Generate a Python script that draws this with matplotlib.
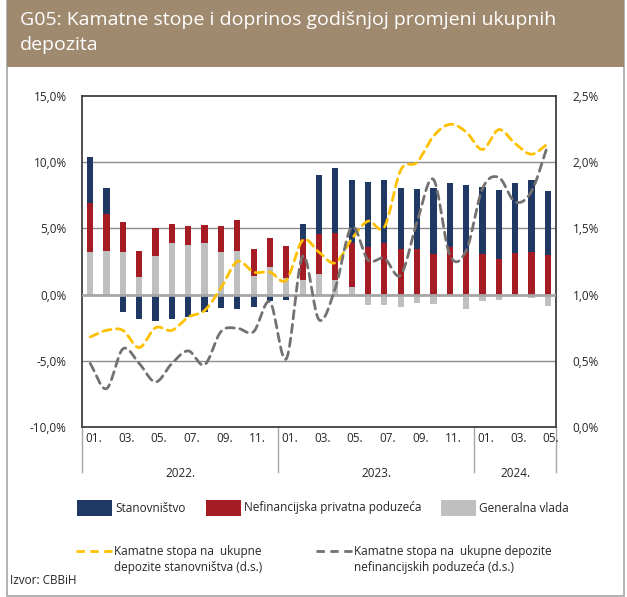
import numpy as np
import matplotlib
matplotlib.use('Agg')
import matplotlib.pyplot as plt
from matplotlib.lines import Line2D
from matplotlib.patches import Rectangle
import matplotlib.transforms as mtransforms

plt.rcParams['font.family'] = ['Open Sans', 'DejaVu Sans']

# doprinos godišnjoj promjeni (%), lijeva os
stanovnistvo = [3.5, 2.0, -1.33, -1.88, -1.98, -1.86, -1.66, -1.28, -1.03, -1.1, -0.95, -0.48,
                -0.4, 1.16, 4.52, 4.93, 4.75, 4.92, 4.78, 4.6, 4.52, 4.95, 4.85, 5.08,
                5.05, 5.2, 5.3, 5.48, 4.82]
poduzeca = [3.7, 2.81, 2.26, 1.94, 2.11, 1.44, 1.41, 1.34, 1.96, 2.34, 2.01, 2.21,
            2.39, 3.04, 2.97, 3.51, 3.29, 3.57, 3.89, 3.42, 3.47, 3.07, 3.57, 3.19,
            3.07, 2.71, 3.12, 3.19, 2.99]
vlada = [3.2, 3.27, 3.2, 1.33, 2.89, 3.89, 3.77, 3.89, 3.24, 3.29, 1.43, 2.09,
         1.28, 1.13, 1.58, 1.11, 0.6, -0.75, -0.78, -0.9, -0.65, -0.73, -0.05, -1.08,
         -0.45, -0.42, -0.12, -0.24, -0.84]

# kamatne stope (%), desna os
stopa_stan = [0.68, 0.73, 0.73, 0.60, 0.75, 0.73, 0.83, 0.88, 1.05, 1.25, 1.17, 1.17,
              1.11, 1.41, 1.32, 1.24, 1.42, 1.555, 1.51, 1.94, 2.0, 2.196, 2.286, 2.229,
              2.096, 2.246, 2.141, 2.06, 2.141]
stopa_pod = [0.48, 0.29, 0.59, 0.48, 0.34, 0.48, 0.575, 0.47, 0.72, 0.746, 0.72, 0.945,
             0.515, 1.29, 0.81, 1.05, 1.51, 1.26, 1.274, 1.148, 1.55, 1.87, 1.30, 1.33,
             1.80, 1.885, 1.70, 1.78, 2.13]

month_labels = ['01.', '', '03.', '', '05.', '', '07.', '', '09.', '', '11.', '',
                '01.', '', '03.', '', '05.', '', '07.', '', '09.', '', '11.', '',
                '01.', '', '03.', '', '05.']
years = ['2022.', '2023.', '2024.']
year_len = [12, 12, 5]

left_ticks = [-10, -5, 0, 5, 10, 15]
left_labels = ['-10,0%', '-5,0%', '0,0%', '5,0%', '10,0%', '15,0%']
right_ticks = [0.0, 0.5, 1.0, 1.5, 2.0, 2.5]
right_labels = ['0,0%', '0,5%', '1,0%', '1,5%', '2,0%', '2,5%']

BLUE = '#1F3864'
RED = '#A51C24'
GRAY = '#BFBFBF'
YELLOW = '#FFC000'
DGRAY = '#767171'


def smooth(xs, ys, k=20):
    # catmull-rom, kao "smoothed line" u Excelu
    xs = np.asarray(xs, float)
    ys = np.asarray(ys, float)
    px = np.concatenate([[2 * xs[0] - xs[1]], xs, [2 * xs[-1] - xs[-2]]])
    py = np.concatenate([[2 * ys[0] - ys[1]], ys, [2 * ys[-1] - ys[-2]]])
    ox, oy = [], []
    t = np.linspace(0, 1, k, endpoint=False)
    for i in range(1, len(px) - 2):
        for p, out in ((px, ox), (py, oy)):
            p0, p1, p2, p3 = p[i - 1], p[i], p[i + 1], p[i + 2]
            out.extend(0.5 * (2 * p1 + (-p0 + p2) * t + (2 * p0 - 5 * p1 + 4 * p2 - p3) * t ** 2
                              + (-p0 + 3 * p1 - 3 * p2 + p3) * t ** 3))
    ox.append(xs[-1])
    oy.append(ys[-1])
    return np.array(ox), np.array(oy)


fig = plt.figure(figsize=(6.27, 5.97), dpi=100)

# okvir i naslov
fig.add_artist(Rectangle((7 / 627, 0.002), 617 / 627, 0.996, transform=fig.transFigure,
                         facecolor='none', edgecolor='#A6A6A6', lw=1.2))
fig.add_artist(Rectangle((7 / 627, 1 - 67 / 597), 617 / 627, 67 / 597, transform=fig.transFigure,
                         facecolor='#A08A6F', edgecolor='none'))
fig.text(20 / 627, 1 - 20 / 597, 'G05: Kamatne stope i doprinos godišnjoj promjeni ukupnih',
         color='white', fontsize=14, va='center', ha='left')
fig.text(20 / 627, 1 - 45 / 597, 'depozita', color='white', fontsize=14, va='center', ha='left')

ax = fig.add_axes([82 / 627, (597 - 427) / 597, 474 / 627, 331 / 597])
n = len(stanovnistvo)
x = np.arange(n)

pos_base = np.zeros(n)
neg_base = np.zeros(n)
for vals, color in [(vlada, GRAY), (poduzeca, RED), (stanovnistvo, BLUE)]:
    v = np.array(vals)
    base = np.where(v >= 0, pos_base, neg_base)
    ax.bar(x, v, 0.38, bottom=base, color=color, zorder=3)
    pos_base += np.clip(v, 0, None)
    neg_base += np.clip(v, None, 0)

ax.set_xlim(-0.5, n - 0.5)
ax.set_ylim(-10, 15)
ax.set_yticks(left_ticks)
ax.set_yticklabels(left_labels)
for g in (-5, 5, 10):
    ax.axhline(g, color='#8C8C8C', lw=1.0, zorder=1)
ax.axhline(0, color='#A6A6A6', lw=2.0, zorder=4)
ax.set_xticks([])
ax.tick_params(axis='y', length=0, pad=11, labelsize=8.5, colors='#262626')
for s in ax.spines.values():
    s.set_color('#404040')
    s.set_linewidth(1.3)

ax2 = ax.twinx()
ax2.set_ylim(0, 2.5)
ax2.set_yticks(right_ticks)
ax2.set_yticklabels(right_labels)
ax2.tick_params(axis='y', length=0, pad=12, labelsize=8.5, colors='#262626')
for s in ax2.spines.values():
    s.set_visible(False)

sx, sy = smooth(x, stopa_stan)
ax2.plot(sx, sy, color=YELLOW, lw=2.0, dashes=(3, 2), dash_capstyle='round')
sx, sy = smooth(x, stopa_pod)
ax2.plot(sx, sy, color=DGRAY, lw=2.0, dashes=(3, 2), dash_capstyle='round')

# oznake mjeseci i godina
trans = mtransforms.blended_transform_factory(ax.transData, ax.transAxes)
for i, lab in enumerate(month_labels):
    if lab:
        ax.text(i + 0.2, -0.035, lab, transform=trans, ha='center', va='center',
                fontsize=8.5, color='#262626')
start = 0
seps = [0]
for yr, ln in zip(years, year_len):
    ax.text(start - 0.5 + ln / 2, -0.139, yr, transform=trans, ha='center', va='center',
            fontsize=8.5, color='#262626')
    start += ln
    seps.append(start)
for s in seps:
    ax.add_line(Line2D([s - 0.5, s - 0.5], [0, -0.136], transform=trans, color='#A6A6A6',
                       lw=1.0, clip_on=False))

# legenda
def fx(px):
    return px / 627


def fy(py):
    return 1 - py / 597


for x0, color, lab in [(77, BLUE, 'Stanovništvo'), (206, RED, 'Nefinancijska privatna poduzeća'),
                       (441, GRAY, 'Generalna vlada')]:
    fig.add_artist(Rectangle((fx(x0), fy(516)), fx(35), 16 / 597, transform=fig.transFigure,
                             facecolor=color, edgecolor='none'))
    fig.text(fx(x0 + 38), fy(508), lab, fontsize=8.5, va='center', ha='left', color='#262626')

for x0, color, l1, l2 in [(76, YELLOW, 'Kamatne stopa na  ukupne', 'depozite stanovništva (d.s.)'),
                          (316, DGRAY, 'Kamatne stopa na  ukupne depozite',
                           'nefinancijskih poduzeća (d.s.)')]:
    fig.add_artist(Line2D([fx(x0), fx(x0 + 36)], [fy(551), fy(551)], transform=fig.transFigure,
                          color=color, lw=2.0, dashes=(3, 2)))
    fig.text(fx(x0 + 38), fy(551), l1, fontsize=8.5, va='center', ha='left', color='#262626')
    fig.text(fx(x0 + 38), fy(568), l2, fontsize=8.5, va='center', ha='left', color='#262626')

fig.text(fx(10), fy(581), 'Izvor: CBBiH', fontsize=8.5, va='center', ha='left', color='#262626')

fig.savefig('out.png', dpi=100)
